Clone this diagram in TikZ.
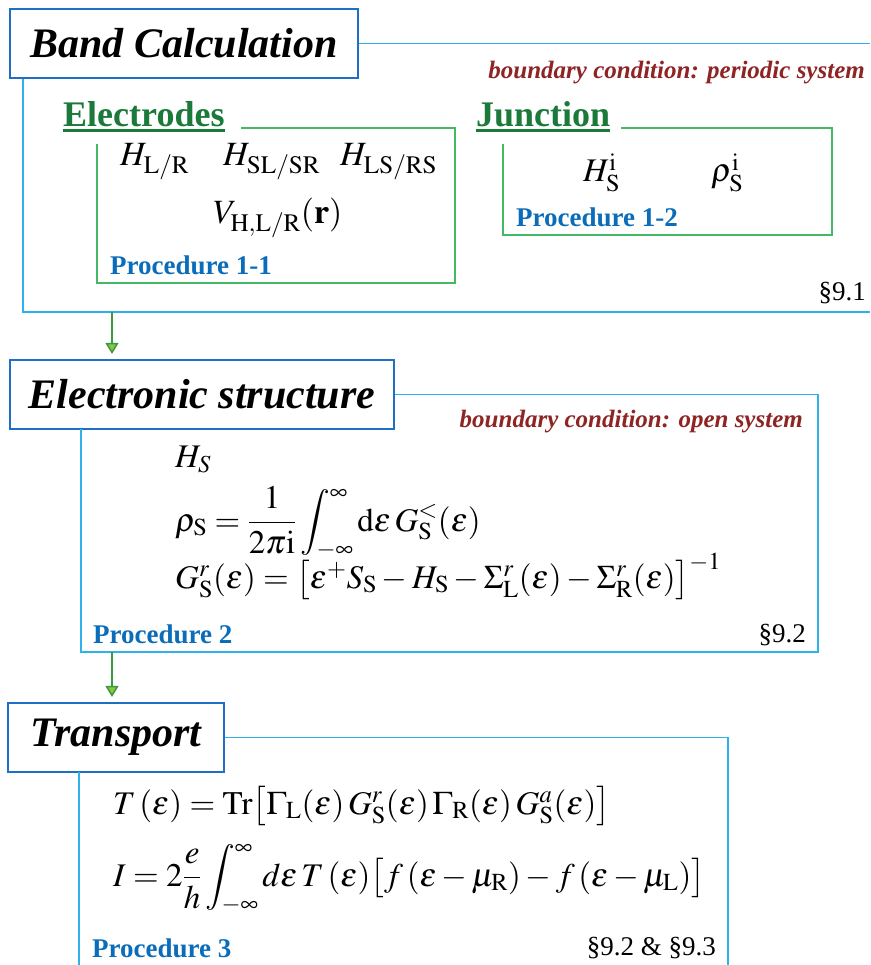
\documentclass[tikz,border=0pt]{standalone}
\usepackage{amsmath}
\usepackage{mathptmx}
\usepackage{fontspec}
\setmainfont{Liberation Serif}[BoldFont={Liberation Serif Bold},ItalicFont={Liberation Serif Italic},BoldItalicFont={Liberation Serif Bold Italic}]
\usepackage{tikz}
\usetikzlibrary{arrows.meta,positioning}
\definecolor{TitleBlue}{HTML}{1F6FC4}
\definecolor{FrameCyan}{HTML}{2EB2EC}
\definecolor{FrameGreen}{HTML}{45B865}
\definecolor{SubGreen}{HTML}{1B7A3A}
\definecolor{ProcBlue}{HTML}{0B6DBA}
\definecolor{BcRed}{HTML}{8E2424}
\definecolor{ArrowGreen}{HTML}{3A9A3F}
\definecolor{ArrowFill}{HTML}{8DC63F}

\begin{document}
\begin{tikzpicture}[x=1pt,y=-1pt,
title/.style={draw=TitleBlue,line width=2.2pt,inner sep=0,minimum height=69pt,font=\fontsize{42}{42}\selectfont\bfseries\itshape},
frame/.style={draw=FrameCyan,line width=1.6pt},
gframe/.style={draw=FrameGreen,line width=1.4pt},
sub/.style={text=SubGreen,inner sep=0,anchor=base west,font=\fontsize{36}{36}\selectfont\bfseries},
ul/.style={draw=SubGreen,line width=3pt},
eq/.style={inner sep=0,anchor=base west,font=\fontsize{33}{33}\selectfont},
proc/.style={text=ProcBlue,inner sep=0,anchor=base west,font=\fontsize{27}{27}\selectfont\bfseries},
bc/.style={text=BcRed,inner sep=0,anchor=base east,font=\fontsize{25}{25}\selectfont\bfseries\itshape},
sec/.style={inner sep=0,anchor=base east,font=\fontsize{27}{27}\selectfont},
flow/.style={-{Triangle[length=11pt,width=13pt,fill=ArrowFill]},draw=ArrowGreen,line width=1.5pt,shorten >=5pt}]
\useasboundingbox (0,0) rectangle (870,965);

\node[title,minimum width=348pt] (band) at (184,43.5) {Band Calculation};
\coordinate (bcorner) at (23,312);
\draw[frame] (band.east) -- (870,43.5);
\draw[frame] (band.south -| bcorner) -- (bcorner) -- (870,312);
\node[bc] (bcper) at (865,79) {boundary condition: periodic system};
\node[sub] (elec) at (63,127) {Electrodes};
\draw[ul] ([yshift=-4pt]elec.base west) -- ([yshift=-4pt]elec.base east);
\draw[gframe] (241,128) -| (455,283) -| (97,144);
\node[eq,font=\fontsize{34}{34}\selectfont] (hlr) at (120,166) {$H_{\mathrm{L/R}}$};
\node[eq,font=\fontsize{34}{34}\selectfont] (hsl) at (223,166) {$H_{\mathrm{SL/SR}}$};
\node[eq,font=\fontsize{34}{34}\selectfont] (hls) at (340,166) {$H_{\mathrm{LS/RS}}$};
\node[eq,font=\fontsize{34}{34}\selectfont] (vh) at (213,224) {$V_{\mathrm{H,L/R}}(\mathbf{r})$};
\node[proc] (p11) at (110,274) {Procedure 1-1};
\node[sub] (junc) at (476,127) {Junction};
\draw[ul] ([yshift=-4pt]junc.base west) -- ([yshift=-4pt]junc.base east);
\draw[gframe] (621,128) -| (832,235) -| (503,144);
\node[eq] (hsi) at (583,182) {$H_{\mathrm S}^{\mathrm i}$};
\node[eq] (rsi) at (711,182) {$\rho_{\mathrm S}^{\mathrm i}$};
\node[proc] (p12) at (516,227) {Procedure 1-2};
\node[sec] (s91) at (866,300) {\S9.1};

\coordinate (a1) at (112,312);
\node[title,minimum width=384pt] (es) at (202,394.5) {Electronic structure};
\draw[flow] (a1) -- (es.north -| a1);
\coordinate (ecorner) at (818,652);
\draw[frame] (es.east) -- (ecorner |- es.east) -- (ecorner) -- (81,652) -- (81,429);
\node[bc] (bcopen) at (803,427) {boundary condition: open system};
\node[eq] (hs) at (175,467) {$H_S$};
\node[eq] (rho) at (175,531) {$\rho_{\mathrm S}=\dfrac{1}{2\pi\mathrm{i}}\displaystyle\int_{-\infty}^{\infty}\mathrm{d}\varepsilon\,G_{\mathrm S}^{<}(\varepsilon)$};
\node[eq] (gr) at (175,588) {$G_{\mathrm S}^{r}(\varepsilon)=\bigl[\varepsilon^{+}S_{\mathrm S}-H_{\mathrm S}-\Sigma_{\mathrm L}^{r}(\varepsilon)-\Sigma_{\mathrm R}^{r}(\varepsilon)\bigr]^{-1}$};
\node[proc] (p2) at (93,643) {Procedure 2};
\node[sec] (s92) at (806,642) {\S9.2};

\coordinate (a2) at (112,652);
\node[title,minimum width=216pt] (tr) at (116,737.5) {Transport};
\draw[flow] (a2) -- (tr.north -| a2);
\draw[frame] (tr.east) -- (728,737.5) -- (728,965);
\draw[frame] (79,772) -- (79,965);
\node[eq] (teq) at (113,814) {$T\,(\varepsilon)=\mathrm{Tr}\bigl[\Gamma_{\mathrm L}(\varepsilon)\,G_{\mathrm S}^{r}(\varepsilon)\,\Gamma_{\mathrm R}(\varepsilon)\,G_{\mathrm S}^{a}(\varepsilon)\bigr]$};
\node[eq] (ieq) at (113,886) {$I=2\dfrac{e}{h}\displaystyle\int_{-\infty}^{\infty}d\varepsilon\,T\,(\varepsilon)\bigl[f\,(\varepsilon-\mu_{\mathrm R})-f\,(\varepsilon-\mu_{\mathrm L})\bigr]$};
\node[proc] (p3) at (92,957) {Procedure 3};
\node[sec] (s93) at (716,955) {\S9.2 \& \S9.3};
\end{tikzpicture}
\end{document}
